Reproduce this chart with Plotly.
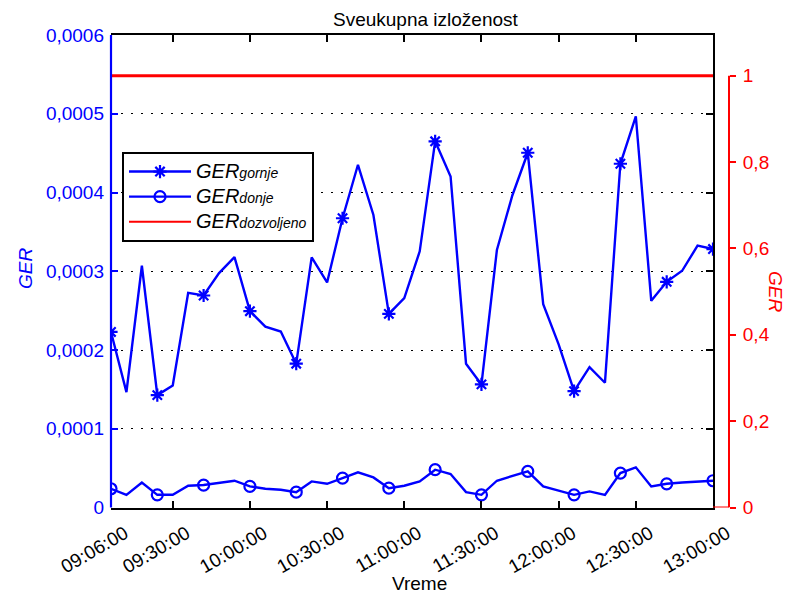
import plotly.graph_objects as go

# ---------------- data ----------------
times = ["09:06", "09:12", "09:18", "09:24", "09:30", "09:36", "09:42", "09:48", "09:54", "10:00",
         "10:06", "10:12", "10:18", "10:24", "10:30", "10:36", "10:42", "10:48", "10:54", "11:00",
         "11:06", "11:12", "11:18", "11:24", "11:30", "11:36", "11:42", "11:48", "11:54", "12:00",
         "12:06", "12:12", "12:18", "12:24", "12:30", "12:36", "12:42", "12:48", "12:54", "13:00"]

ger_gornje = [2.229e-4, 1.465e-4, 3.070e-4, 1.427e-4, 1.550e-4, 2.726e-4, 2.692e-4, 2.977e-4, 3.180e-4, 2.493e-4,
              2.297e-4, 2.234e-4, 1.826e-4, 3.176e-4, 2.858e-4, 3.673e-4, 4.352e-4, 3.715e-4, 2.459e-4, 2.658e-4,
              3.253e-4, 4.650e-4, 4.204e-4, 1.826e-4, 1.563e-4, 3.270e-4, 3.962e-4, 4.505e-4, 2.582e-4, 2.072e-4,
              1.478e-4, 1.783e-4, 1.584e-4, 4.365e-4, 4.968e-4, 2.624e-4, 2.866e-4, 3.006e-4, 3.325e-4, 3.282e-4]

ger_donje = [0.238e-4, 0.161e-4, 0.318e-4, 0.161e-4, 0.161e-4, 0.276e-4, 0.285e-4, 0.310e-4, 0.340e-4, 0.268e-4,
             0.238e-4, 0.225e-4, 0.195e-4, 0.331e-4, 0.301e-4, 0.374e-4, 0.446e-4, 0.382e-4, 0.246e-4, 0.276e-4,
             0.331e-4, 0.480e-4, 0.425e-4, 0.195e-4, 0.161e-4, 0.340e-4, 0.403e-4, 0.459e-4, 0.268e-4, 0.212e-4,
             0.161e-4, 0.204e-4, 0.161e-4, 0.437e-4, 0.510e-4, 0.268e-4, 0.301e-4, 0.318e-4, 0.331e-4, 0.340e-4]

ger_dozvoljeno = [1.0] * len(times)

x_tick_times = ["09:06", "09:30", "10:00", "10:30", "11:00", "11:30", "12:00", "12:30", "13:00"]
x_tick_labels = ["09:06:00", "09:30:00", "10:00:00", "10:30:00", "11:00:00",
                 "11:30:00", "12:00:00", "12:30:00", "13:00:00"]

left_tick_vals = [0, 0.0001, 0.0002, 0.0003, 0.0004, 0.0005, 0.0006]
left_tick_labels = ["0", "0,0001", "0,0002", "0,0003", "0,0004", "0,0005", "0,0006"]

right_tick_vals = [0, 0.2, 0.4, 0.6, 0.8, 1.0]
right_tick_labels = ["0", "0,2", "0,4", "0,6", "0,8", "1"]

marker_step = 3

# ---------------- layout geometry ----------------
W, H = 787, 596
FONT = "Liberation Sans, Arial, sans-serif"
FS = 19
LFS = 17
LBIG = 20
SUB = 14
BLUE = "#0000FF"
RED = "#FF0000"

x_dom = [111 / W, 713 / W]
y_dom = [1 - 507.5 / H, 1 - 35 / H]
red_axis_pos = 729 / W
y2_top = 1.0943

day = "2000-01-01 "
xs = [day + t + ":00" for t in times]


def sparse(vals):
    xx, yy = [], []
    for i in range(0, len(vals), marker_step):
        xx += [xs[i], None]
        yy += [vals[i], None]
    return xx, yy


def legend_name(sub):
    return ("<i><span style='font-size:%dpx'>GER</span>"
            "<span style='font-size:%dpx'>%s</span></i>") % (LBIG, SUB, sub)


fig = go.Figure()

# red limit line (right axis)
fig.add_trace(go.Scatter(x=xs, y=ger_dozvoljeno, yaxis="y2", mode="lines",
                         line=dict(color=RED, width=3), showlegend=False, legendgroup="c"))

# gornje
fig.add_trace(go.Scatter(x=xs, y=ger_gornje, mode="lines", line=dict(color=BLUE, width=2.4),
                         showlegend=False, legendgroup="a"))
gx, gy = sparse(ger_gornje)
fig.add_trace(go.Scatter(x=gx, y=gy, mode="lines+markers", connectgaps=False,
                         line=dict(color=BLUE, width=2.4),
                         marker=dict(symbol="asterisk-open", size=11, color=BLUE,
                                     line=dict(color=BLUE, width=2.2)),
                         name=legend_name("gornje"), legendgroup="a"))

# donje
fig.add_trace(go.Scatter(x=xs, y=ger_donje, mode="lines", line=dict(color=BLUE, width=2.4),
                         showlegend=False, legendgroup="b"))
dx, dy = sparse(ger_donje)
fig.add_trace(go.Scatter(x=dx, y=dy, mode="lines+markers", connectgaps=False,
                         line=dict(color=BLUE, width=2.4),
                         marker=dict(symbol="circle-open", size=11, color=BLUE,
                                     line=dict(color=BLUE, width=2.2)),
                         name=legend_name("donje"), legendgroup="b"))

# legend entry for the red line
fig.add_trace(go.Scatter(x=[None], y=[None], yaxis="y2", mode="lines",
                         line=dict(color=RED, width=2),
                         name=legend_name("dozvoljeno"), legendgroup="c"))

# helper trace for black right spine
fig.add_trace(go.Scatter(x=[None], y=[None], yaxis="y3", mode="lines", showlegend=False))

fig.update_layout(
    width=W, height=H,
    margin=dict(l=0, r=0, t=0, b=0),
    paper_bgcolor="white", plot_bgcolor="white",
    font=dict(family=FONT, size=FS, color="black"),
    showlegend=True,
    legend=dict(x=122 / W, y=1 - 152 / H, xanchor="left", yanchor="top",
                bgcolor="white", bordercolor="black", borderwidth=2,
                font=dict(family=FONT, size=LFS, color="black"),
                itemwidth=62, tracegroupgap=0, traceorder="normal"),
    xaxis=dict(
        domain=x_dom, type="date",
        range=[day + "09:06:00", day + "13:00:00"],
        tickvals=[day + t + ":00" for t in x_tick_times], ticktext=x_tick_labels,
        tickangle=-30, ticks="inside", ticklen=7, tickwidth=1.5, tickcolor="black",
        showline=True, linecolor="black", linewidth=1.5, mirror="ticks",
        showgrid=False, zeroline=False, automargin=False,
        ticklabelshift=14, ticklabelstandoff=6,
        tickfont=dict(family=FONT, size=FS, color="black"),
    ),
    yaxis=dict(
        domain=y_dom, range=[0, 0.0006],
        tickvals=left_tick_vals, ticktext=left_tick_labels,
        ticks="inside", ticklen=7, tickwidth=1.5, tickcolor=BLUE,
        showline=False,
        showgrid=True, gridcolor="black", gridwidth=1, griddash="2px,8px",
        zeroline=False, automargin=False, ticklabelstandoff=6,
        tickfont=dict(family=FONT, size=FS, color=BLUE),
    ),
    yaxis2=dict(
        overlaying="y", side="right", anchor="free", position=red_axis_pos,
        range=[0, y2_top], tickvals=right_tick_vals, ticktext=right_tick_labels,
        ticks="outside", ticklen=6, tickwidth=1.5, tickcolor=RED,
        showline=False, showgrid=False, zeroline=False, automargin=False,
        ticklabelstandoff=3,
        tickfont=dict(family=FONT, size=FS, color=RED),
    ),
    yaxis3=dict(
        overlaying="y", side="right", anchor="x",
        range=[0, 0.0006], tickvals=left_tick_vals,
        ticks="inside", ticklen=7, tickwidth=1.5, tickcolor="black",
        showline=True, linecolor="black", linewidth=1.5,
        showticklabels=False, showgrid=False, zeroline=False, automargin=False,
    ),
    shapes=[
        # blue left spine
        dict(type="line", xref="paper", yref="paper", x0=x_dom[0], x1=x_dom[0],
             y0=y_dom[0], y1=y_dom[1], line=dict(color=BLUE, width=2.2), layer="above"),
        # red right axis spine
        dict(type="line", xref="paper", yref="y2", x0=red_axis_pos, x1=red_axis_pos,
             y0=0, y1=1, line=dict(color=RED, width=2)),
        dict(type="line", xref="paper", yref="y2", x0=x_dom[1], x1=red_axis_pos,
             y0=0, y1=0, line=dict(color=RED, width=2)),
    ],
    annotations=[
        dict(text="Sveukupna izloženost", xref="paper", yref="paper",
             x=426 / W, y=1 - 19 / H, xanchor="center", yanchor="middle",
             showarrow=False, font=dict(family=FONT, size=FS, color="black")),
        dict(text="Vreme", xref="paper", yref="paper",
             x=419 / W, y=1 - 583 / H, xanchor="center", yanchor="middle",
             showarrow=False, font=dict(family=FONT, size=FS, color="black")),
        dict(text="<i>GER</i>", xref="paper", yref="paper",
             x=26 / W, y=1 - 269 / H, xanchor="center", yanchor="middle", textangle=-90,
             showarrow=False, font=dict(family=FONT, size=FS, color=BLUE)),
        dict(text="<i>GER</i>", xref="paper", yref="paper",
             x=776 / W, y=1 - 291 / H, xanchor="center", yanchor="middle", textangle=90,
             showarrow=False, font=dict(family=FONT, size=FS, color=RED)),
    ],
)

fig.write_html("out.html")
